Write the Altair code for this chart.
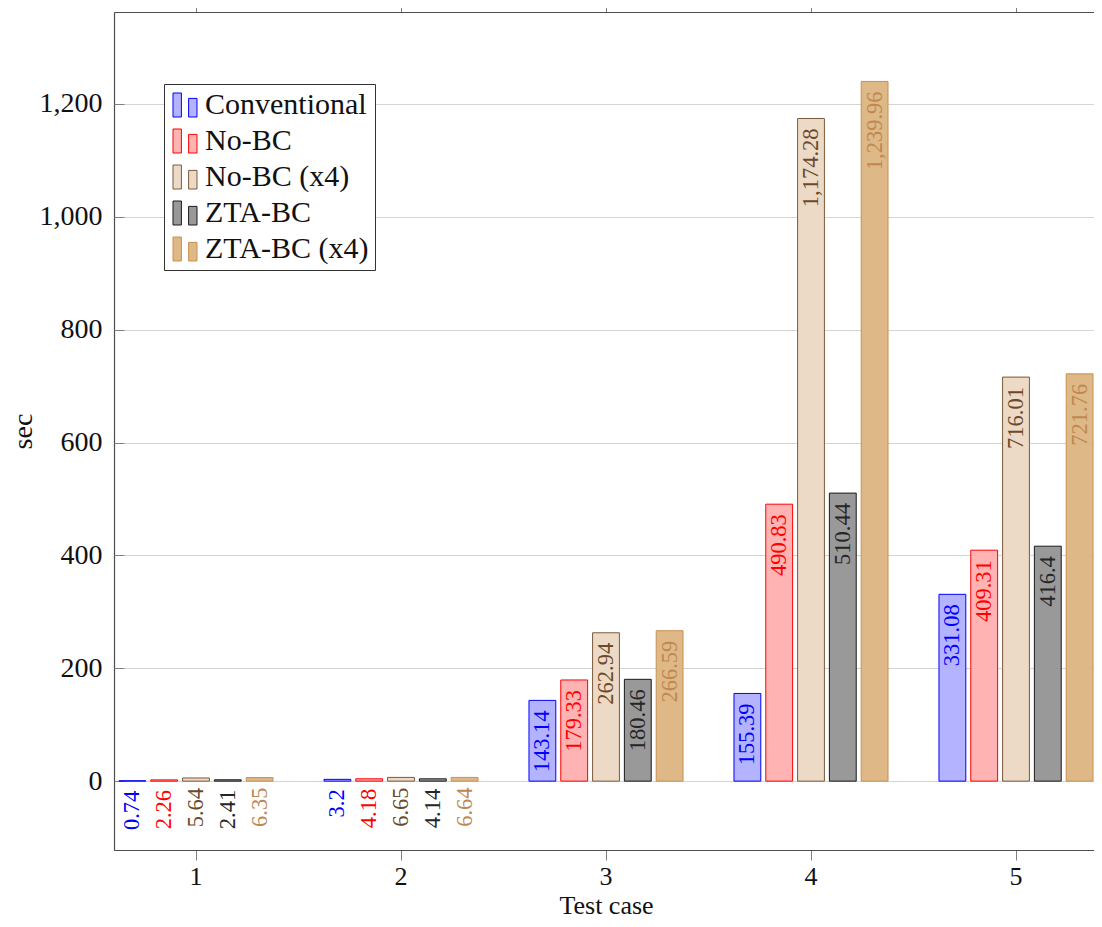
import altair as alt
import pandas as pd

cases = [1, 2, 3, 4, 5]
series = ["Conventional", "No-BC", "No-BC (x4)", "ZTA-BC", "ZTA-BC (x4)"]
conventional = [0.74, 3.2, 143.14, 155.39, 331.08]
no_bc = [2.26, 4.18, 179.33, 490.83, 409.31]
no_bc_x4 = [5.64, 6.65, 262.94, 1174.28, 716.01]
zta_bc = [2.41, 4.14, 180.46, 510.44, 416.4]
zta_bc_x4 = [6.35, 6.64, 266.59, 1239.96, 721.76]
y_ticks = [0, 200, 400, 600, 800, 1000, 1200]

fill_colors = ["#b3b3ff", "#ffb3b3", "#eddac6", "#999999", "#deb887"]
stroke_colors = ["#0000ff", "#ff0000", "#7a5a3a", "#1a1a1a", "#c8914f"]
label_colors = ["#0000ff", "#ff0000", "#6b4a2b", "#262626", "#c08850"]

rows = []
for name, vals in zip(series, [conventional, no_bc, no_bc_x4, zta_bc, zta_bc_x4]):
    for c, v in zip(cases, vals):
        rows.append({"case": c, "series": name, "value": v})
df = pd.DataFrame(rows)

FONT = "Liberation Serif"
FRAME = "#4d4d4d"

x_scale = alt.Scale(paddingInner=0.2485, paddingOuter=0.02425, range=[0, 984])
xoff_scale = alt.Scale(paddingInner=0.15625, paddingOuter=0)
y_scale = alt.Scale(domain=[-122, 1363], nice=False, zero=False)

sym_path = "M-1,-1H-0.3V1H-1Z M0.3,-0.55H1V1H0.3Z"

base = alt.Chart(df)

bars = base.mark_bar(strokeWidth=1, fillOpacity=1, strokeOpacity=1).encode(
    x=alt.X("case:O", scale=x_scale, sort=cases,
            axis=alt.Axis(title="Test case", labelAngle=0, domain=True,
                          domainColor=FRAME, domainWidth=1.2,
                          tickSize=10, tickColor="#808080", labelPadding=3,
                          labelFont=FONT, labelFontSize=26, labelColor="#111111",
                          titleFont=FONT, titleFontSize=26, titleFontWeight="normal",
                          titleColor="#111111", titleBaseline="alphabetic", titleY=63)),
    xOffset=alt.XOffset("series:N", scale=xoff_scale, sort=series),
    y=alt.Y("value:Q", scale=y_scale,
            axis=alt.Axis(title="sec", values=y_ticks, format=",d", domain=True,
                          domainColor=FRAME, domainWidth=1.2,
                          ticks=False, labelPadding=12, grid=True,
                          gridColor="#d4d4d4", gridWidth=1,
                          labelFont=FONT, labelFontSize=28, labelColor="#111111",
                          titleFont=FONT, titleFontSize=28, titleFontWeight="normal",
                          titleColor="#111111", titleAngle=270, titleX=-77,
                          titleY=419, titleBaseline="bottom")),
    fill=alt.Fill("series:N", sort=series,
                  scale=alt.Scale(domain=series, range=fill_colors),
                  legend=alt.Legend(title=None, orient="none", legendX=50, legendY=72,
                                    symbolType=sym_path, symbolSize=576,
                                    symbolStrokeWidth=1, symbolOpacity=1,
                                    labelFont=FONT, labelFontSize=30, labelColor="#111111",
                                    labelLimit=400,
                                    labelOffset=5, rowPadding=6, padding=6,
                                    strokeColor="#333333", fillColor="white",
                                    cornerRadius=0)),
    stroke=alt.Stroke("series:N", sort=series,
                      scale=alt.Scale(domain=series, range=stroke_colors)),
)

labels = base.mark_text(angle=270, align="right", baseline="middle", dx=-10,
                        font=FONT, fontSize=22.5).encode(
    x=alt.X("case:O", scale=x_scale, sort=cases, axis=None),
    xOffset=alt.XOffset("series:N", scale=xoff_scale, sort=series),
    y=alt.Y("value:Q", scale=y_scale, axis=None),
    text=alt.Text("value:Q", format=",.2~f"),
    color=alt.Color("series:N", scale=alt.Scale(domain=series, range=label_colors),
                    legend=None),
)

top_ticks = base.mark_point(opacity=0).encode(
    x=alt.X("case:O", scale=x_scale, sort=cases,
            axis=alt.Axis(orient="top", labels=False, domain=True,
                          domainColor=FRAME, domainWidth=1.2, title=None,
                          tickSize=12, tickColor="#808080")),
    y=alt.Y("value:Q", scale=y_scale,
            axis=alt.Axis(orient="right", offset=-980, values=y_ticks, labels=False,
                          domain=False, grid=False, title=None,
                          tickSize=10, tickColor="#808080")),
)

chart = alt.layer(bars, labels, top_ticks).resolve_axis(
    x="independent", y="independent"
).properties(
    width=980, height=838,
    autosize=alt.AutoSizeParams(type="none"),
    padding={"left": 106, "top": 4, "right": 0, "bottom": 69},
).configure_view(stroke=None).configure(background="white")

chart.save("out.html", embed_options={"renderer": "svg", "actions": False})
